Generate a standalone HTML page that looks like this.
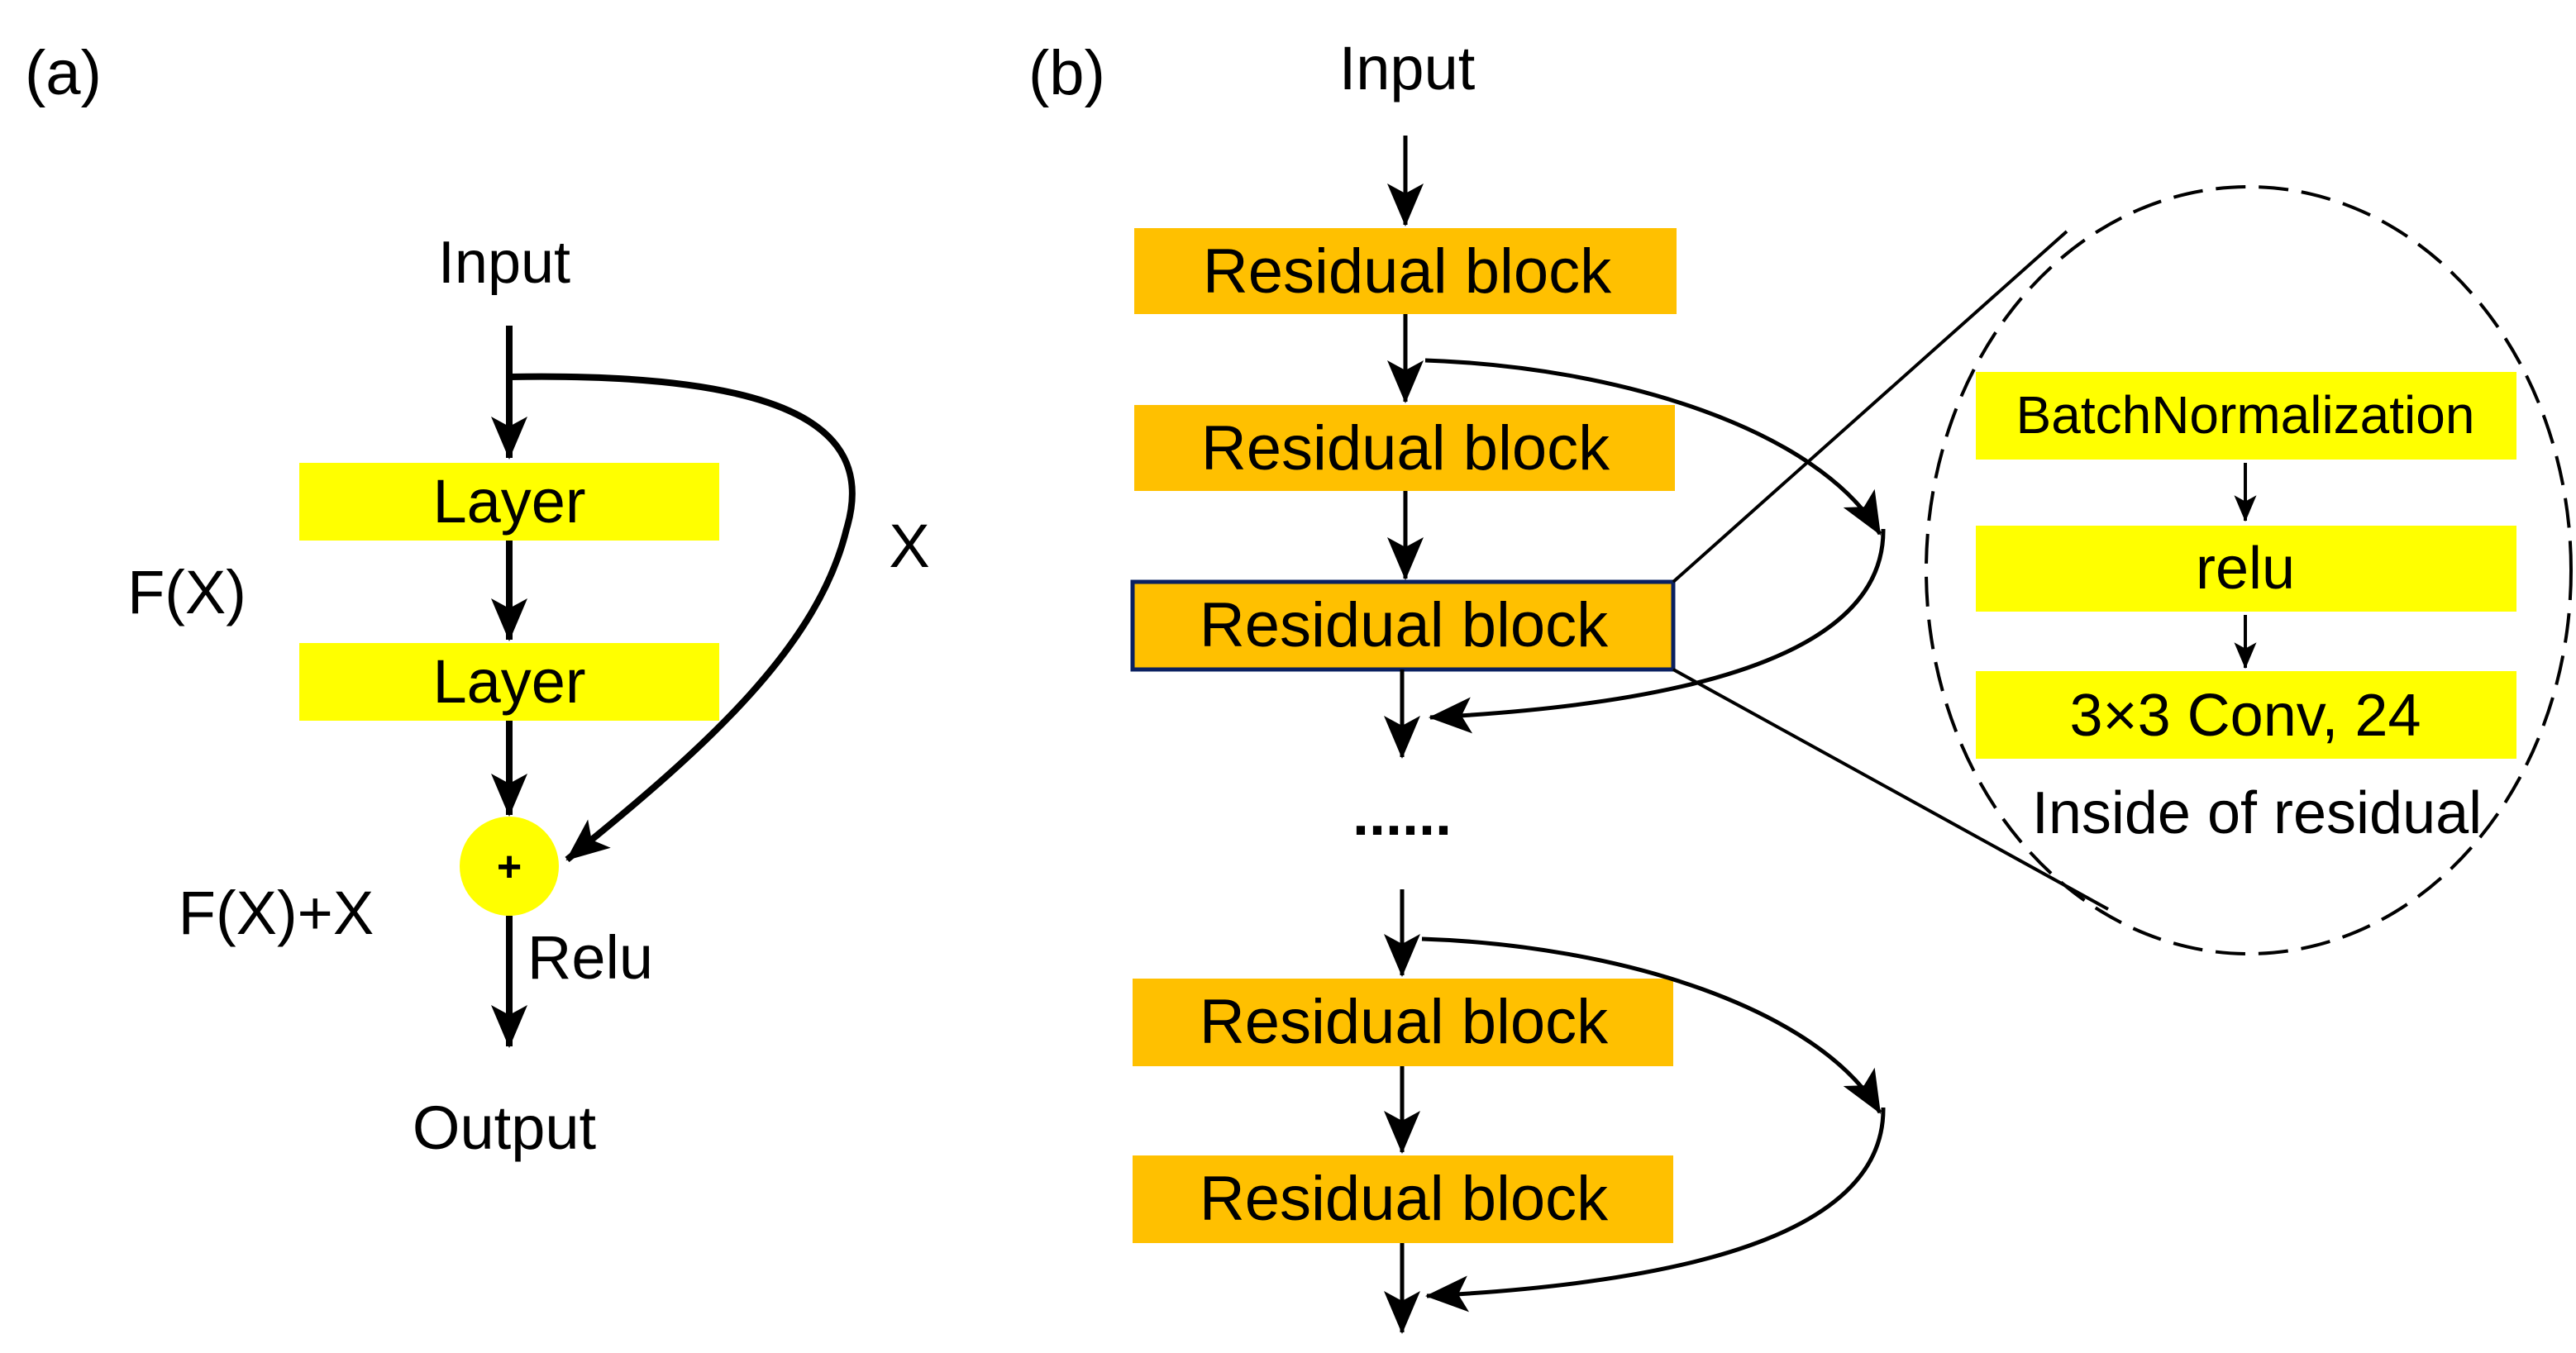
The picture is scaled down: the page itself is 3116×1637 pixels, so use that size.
<!DOCTYPE html>
<html><head><meta charset="utf-8"><style>html,body{margin:0;padding:0;background:#fff}svg{display:block}</style></head>
<body>
<svg width="3116" height="1637" viewBox="0 0 1558 818.5" xmlns="http://www.w3.org/2000/svg" font-family="Liberation Sans, sans-serif">
<defs>
<marker id="ah" viewBox="0 0 26 24" refX="25" refY="12" markerWidth="26" markerHeight="24" markerUnits="userSpaceOnUse" orient="auto">
<path d="M0,1 L26,12 L0,23 L6,12 Z" fill="#000"/></marker>
<marker id="ahs" viewBox="0 0 26 24" refX="25" refY="12" markerWidth="16" markerHeight="15" markerUnits="userSpaceOnUse" orient="auto">
<path d="M0,1 L26,12 L0,23 L6,12 Z" fill="#000"/></marker>
</defs>
<!-- (a) -->
<text x="15" y="57" font-size="38">(a)</text>
<text x="305" y="171" font-size="36" text-anchor="middle">Input</text>
<g stroke="#000" stroke-width="4" fill="none">
<line x1="308" y1="197" x2="308" y2="277" marker-end="url(#ah)"/>
<line x1="308" y1="327" x2="308" y2="387" marker-end="url(#ah)"/>
<line x1="308" y1="436" x2="308" y2="493" marker-end="url(#ah)"/>
<line x1="308" y1="554" x2="308" y2="633" marker-end="url(#ah)"/>
<path d="M308,228 C480,225 530,260 512,320 C495,390 430,450 343,520" marker-end="url(#ah)"/>
</g>
<rect x="181" y="280" width="254" height="47" fill="#FFFF00"/>
<rect x="181" y="389" width="254" height="47" fill="#FFFF00"/>
<text x="308" y="316" font-size="37" text-anchor="middle">Layer</text>
<text x="308" y="425" font-size="37" text-anchor="middle">Layer</text>
<circle cx="308" cy="524" r="30" fill="#FFFF00"/>
<text x="308" y="533" font-size="26" text-anchor="middle" font-weight="bold">+</text>
<text x="550" y="343" font-size="37" text-anchor="middle">X</text>
<text x="113" y="371" font-size="37" text-anchor="middle">F(X)</text>
<text x="167" y="565" font-size="37" text-anchor="middle">F(X)+X</text>
<text x="357" y="592" font-size="37" text-anchor="middle">Relu</text>
<text x="305" y="695" font-size="37" text-anchor="middle">Output</text>
<!-- (b) -->
<text x="622" y="57" font-size="38">(b)</text>
<text x="851" y="54" font-size="37" text-anchor="middle">Input</text>
<g fill="#FFC000">
<rect x="686" y="138" width="328" height="52"/>
<rect x="686" y="245" width="327" height="52"/>
<rect x="685" y="352" width="327" height="53" stroke="#0a2060" stroke-width="2.5"/>
<rect x="685" y="592" width="327" height="53"/>
<rect x="685" y="699" width="327" height="53"/>
</g>
<g font-size="38" text-anchor="middle">
<text x="851" y="177">Residual block</text>
<text x="850" y="284">Residual block</text>
<text x="849" y="391">Residual block</text>
<text x="849" y="631">Residual block</text>
<text x="849" y="738">Residual block</text>
</g>
<g stroke="#000" stroke-width="2.5" fill="none">
<line x1="850" y1="82" x2="850" y2="136" marker-end="url(#ah)"/>
<line x1="850" y1="190" x2="850" y2="243" marker-end="url(#ah)"/>
<line x1="850" y1="297" x2="850" y2="350" marker-end="url(#ah)"/>
<line x1="848" y1="405" x2="848" y2="458" marker-end="url(#ah)"/>
<line x1="848" y1="538" x2="848" y2="590" marker-end="url(#ah)"/>
<line x1="848" y1="645" x2="848" y2="697" marker-end="url(#ah)"/>
<line x1="848" y1="752" x2="848" y2="806" marker-end="url(#ah)"/>
<path d="M862,218 C980,222 1100,260 1137,323" marker-end="url(#ah)"/>
<path d="M1139,320 C1140,390 1040,425 865,434" marker-end="url(#ah)"/>
<path d="M860,568 C980,572 1100,610 1137,673" marker-end="url(#ah)"/>
<path d="M1139,670 C1140,740 1040,775 863,784" marker-end="url(#ah)"/>
<line x1="1012" y1="352" x2="1250" y2="140" stroke-width="2"/>
<line x1="1012" y1="405" x2="1275" y2="550" stroke-width="2"/>
<ellipse cx="1360" cy="345" rx="195" ry="232" stroke-dasharray="18,8" stroke-width="2"/>
<line x1="1358" y1="280" x2="1358" y2="315" stroke-width="2" marker-end="url(#ahs)"/>
<line x1="1358" y1="372" x2="1358" y2="404" stroke-width="2" marker-end="url(#ahs)"/>
</g>
<text x="848" y="505" font-size="36" text-anchor="middle" font-weight="bold">......</text>
<rect x="1195" y="225" width="327" height="53" fill="#FFFF00"/>
<rect x="1195" y="318" width="327" height="52" fill="#FFFF00"/>
<rect x="1195" y="406" width="327" height="53" fill="#FFFF00"/>
<text x="1358" y="262" font-size="32" text-anchor="middle">BatchNormalization</text>
<text x="1358" y="356" font-size="36" text-anchor="middle">relu</text>
<text x="1358" y="445" font-size="36" text-anchor="middle">3×3 Conv, 24</text>
<text x="1365" y="504" font-size="36" text-anchor="middle">Inside of residual</text>
</svg>
</body></html>
